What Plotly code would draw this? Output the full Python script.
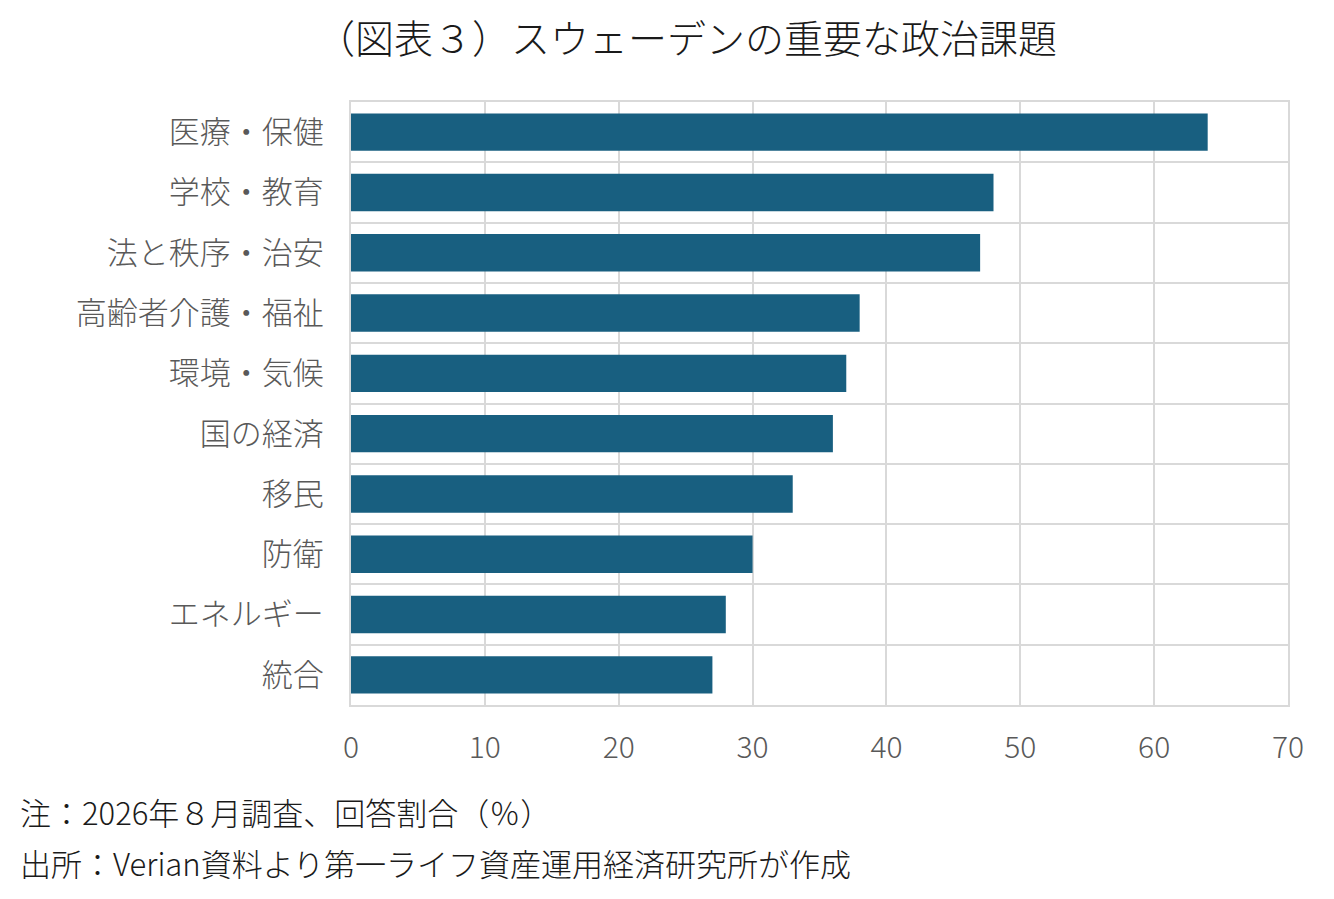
import plotly.graph_objects as go

categories = ["医療・保健", "学校・教育", "法と秩序・治安", "高齢者介護・福祉", "環境・気候",
              "国の経済", "移民", "防衛", "エネルギー", "統合"]
values = [64, 48, 47, 38, 37, 36, 33, 30, 28, 27]
x_ticks = [0, 10, 20, 30, 40, 50, 60, 70]

title_text = "（図表３）スウェーデンの重要な政治課題"
note1 = "注：2026年８月調査、回答割合（％）"
note2 = "出所：Verian資料より第一ライフ資産運用経済研究所が作成"

FONT = "Noto Sans CJK JP"
GRID = "#d9d9d9"
LABEL = "#595959"

fig = go.Figure(go.Bar(
    x=values, y=categories, orientation="h",
    marker=dict(color="#185f80", line=dict(width=0)),
))

fig.update_layout(
    width=1334, height=899,
    margin=dict(l=343, r=54, t=94, b=202),
    paper_bgcolor="white", plot_bgcolor="white",
    font=dict(family=FONT, size=30, color=LABEL, weight=300),
    bargap=0.38,
    showlegend=False,
    xaxis=dict(range=[0, 70], tickvals=x_ticks, showgrid=True, gridcolor=GRID, gridwidth=2,
               zeroline=False, showline=True, linecolor=GRID, linewidth=2, mirror=True,
               ticks="", ticklabelstandoff=15, tickfont=dict(size=30, color=LABEL)),
    yaxis=dict(type="category", autorange="reversed", tickson="boundaries",
               showgrid=True, gridcolor=GRID, gridwidth=2, showline=True, linecolor=GRID,
               linewidth=2, mirror=True, ticks="", ticklabelstandoff=19,
               tickfont=dict(size=31, color=LABEL)),
    annotations=[
        dict(text=title_text, xref="paper", yref="paper", x=(686 - 351) / 937,
             y=1 + (101 - 35) / 603, xanchor="center", yanchor="middle", showarrow=False,
             font=dict(family=FONT, size=39, color="#1a1a1a", weight=300)),
        dict(text=note1, xref="paper", yref="paper", x=(18 - 351) / 937, y=-0.176,
             xanchor="left", yanchor="middle", showarrow=False,
             font=dict(family=FONT, size=31, color="#1a1a1a", weight=300)),
        dict(text=note2, xref="paper", yref="paper", x=(18 - 351) / 937, y=-0.262,
             xanchor="left", yanchor="middle", showarrow=False,
             font=dict(family=FONT, size=31, color="#1a1a1a", weight=300)),
    ],
)

fig.write_html("out.html")
